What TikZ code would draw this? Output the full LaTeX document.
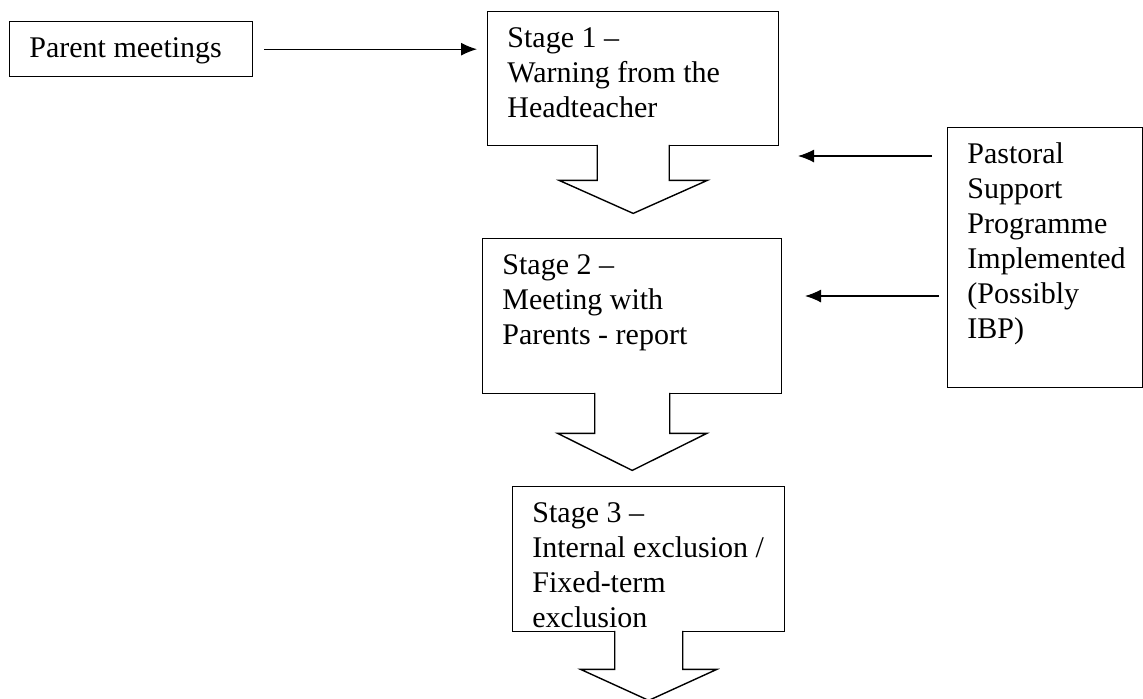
\documentclass[tikz,border=0pt]{standalone}
\usepackage{fontspec}
\setmainfont{Liberation Serif}
\usetikzlibrary{positioning}
\usetikzlibrary{arrows.meta}
\tikzset{
  boxline/.style={draw=black,line width=0.7pt},
  stagebox/.style={boxline,rectangle,inner sep=0pt,anchor=north west},
  boxtext/.style={inner sep=0pt,align=left,anchor=north west,font=\fontsize{15}{17.5}\selectfont},
  arr/.style={line width=0.6pt,-{Latex[length=8pt,width=6.5pt]}}
}
\begin{document}
\begin{tikzpicture}[x=0.5pt,y=-0.5pt]
\useasboundingbox (0,0) rectangle (1143,698);
% boxes
\node[stagebox,minimum width=121.5pt,minimum height=27.5pt] (pm) at (9,21) {};
\node[stagebox,minimum width=145.5pt,minimum height=67pt] (s1) at (487,11) {};
\node[stagebox,minimum width=149.5pt,minimum height=77.5pt] (s2) at (482,238) {};
\node[stagebox,minimum width=136pt,minimum height=72.5pt] (s3) at (512,486) {};
\node[stagebox,minimum width=97.5pt,minimum height=130pt] (psp) at (947,127) {};
% texts
\node[boxtext,below right=5.75pt and 10pt of pm.north west] (pmtext) {\strut Parent meetings};
\node[boxtext,below right=5.75pt and 10pt of s1.north west] (s1text) {\strut Stage 1 --\\Warning from the\\Headteacher};
\node[boxtext,below right=5.75pt and 10pt of s2.north west] (s2text) {\strut Stage 2 --\\Meeting with\\Parents - report};
\node[boxtext,below right=5.75pt and 10pt of s3.north west] (s3text) {\strut Stage 3 --\\Internal exclusion /\\Fixed-term\\exclusion};
\node[boxtext,below right=5.75pt and 10pt of psp.north west] (psptext) {\strut Pastoral\\Support\\Programme\\Implemented\\(Possibly\\IBP)};
% block arrows
\draw[boxline,fill=white] ([shift={(-36,-1.5)}]s1.south) -- ++(0,35.5) -- ++(-38,0) -- ++(74,33) -- ++(74,-33) -- ++(-38,0) -- ++(0,-35.5);
\draw[boxline,fill=white] ([shift={(-37.5,-1.5)}]s2.south) -- ++(0,40.5) -- ++(-37,0) -- ++(74.5,37) -- ++(74.5,-37) -- ++(-37,0) -- ++(0,-40.5);
\draw[boxline,fill=white] ([shift={(-34,-1.5)}]s3.south) -- ++(0,38.5) -- ++(-34,0) -- ++(68,31) -- ++(68,-31) -- ++(-34,0) -- ++(0,-38.5);
% arrows
\coordinate (upperend) at (798,156);
\coordinate (lowerend) at (805,296);
\draw[arr,shorten <=5.5pt,shorten >=5pt] (pm.east) -- (pm.east -| s1.west);
\draw[arr,shorten <=7.5pt] (psp.west |- upperend) -- (upperend);
\draw[arr,shorten <=4pt] (psp.west |- lowerend) -- (lowerend);
\end{tikzpicture}
\end{document}
